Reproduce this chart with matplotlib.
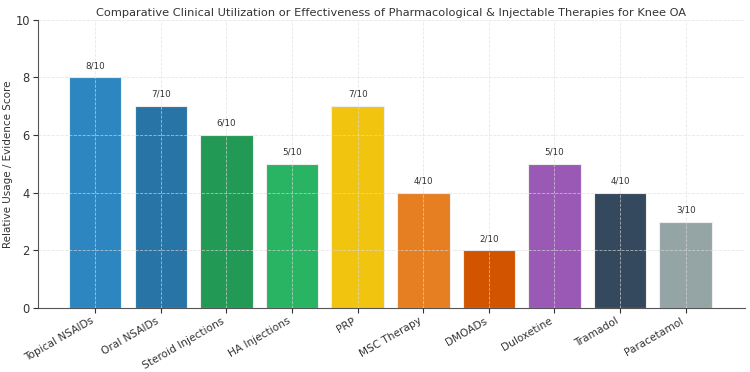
import matplotlib
matplotlib.use("Agg")
import matplotlib.pyplot as plt

therapies = ["Topical NSAIDs", "Oral NSAIDs", "Steroid Injections", "HA Injections", "PRP",
             "MSC Therapy", "DMOADs", "Duloxetine", "Tramadol", "Paracetamol"]
scores = [8, 7, 6, 5, 7, 4, 2, 5, 4, 3]
colors = ["#2E86C1", "#2874A6", "#229954", "#28B463", "#F1C40F",
          "#E67E22", "#D35400", "#9B59B6", "#34495E", "#95A5A6"]

fig, ax = plt.subplots(figsize=(7.5, 3.72), dpi=100)
fig.subplots_adjust(left=0.05, right=0.993, top=0.947, bottom=0.172)

x = range(len(therapies))
bars = ax.bar(x, scores, color=colors, width=0.8, edgecolor="#eeeeee", linewidth=0.8, zorder=2)
for xi, s in zip(x, scores):
    ax.text(xi, s + 0.25, f"{s}/10", ha="center", va="bottom", fontsize=6.3, color="#333333")

ax.set_xticks(list(x))
ax.set_xticklabels(therapies, rotation=30, ha="right", fontsize=7.6, color="#333333")
ax.set_ylim(0, 10)
ax.set_xlim(-0.88, 9.9)
ax.set_yticks([0, 2, 4, 6, 8, 10])
ax.tick_params(axis="y", labelsize=8.3, colors="#333333", pad=2)
ax.tick_params(axis="x", colors="#333333", pad=2)
ax.set_ylabel("Relative Usage / Evidence Score", fontsize=7.5, color="#333333", labelpad=2)
ax.set_title("Comparative Clinical Utilization or Effectiveness of Pharmacological & Injectable Therapies for Knee OA",
             fontsize=8.2, color="#333333", pad=3)
ax.grid(True, linestyle="--", color="#dddddd", linewidth=0.6, alpha=0.7, zorder=3)
ax.set_axisbelow(False)
for side in ["top", "right"]:
    ax.spines[side].set_visible(False)
for side in ["left", "bottom"]:
    ax.spines[side].set_color("#555555")

fig.savefig("out.png", dpi=100)
